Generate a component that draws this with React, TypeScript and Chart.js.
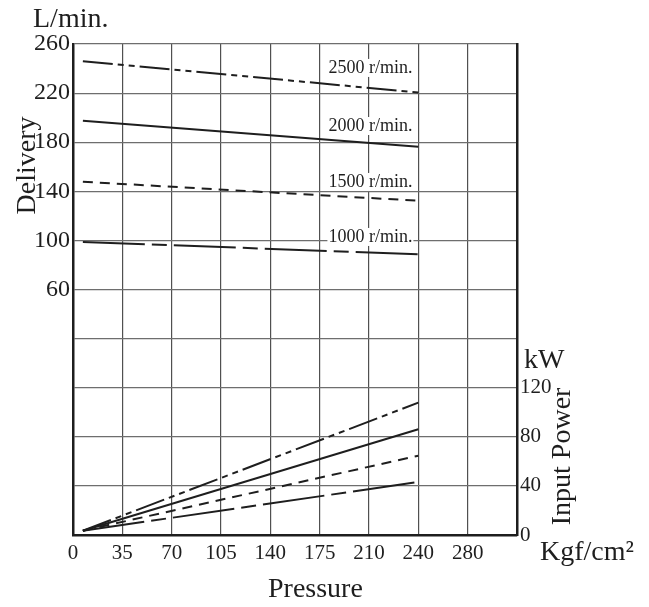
import React, { useEffect, useRef } from "react";
import { Chart, registerables } from "chart.js";

Chart.register(...registerables);

// ---- data ----
const pressureTicks = [0, 35, 70, 105, 140, 175, 210, 245, 280, 315];
const pressureTickLabels = ["0", "35", "70", "105", "140", "175", "210", "240", "280", ""];

const speedLabels = ["2500 r/min.", "2000 r/min.", "1500 r/min.", "1000 r/min."];
const pressurePoints = [7, 245];

const delivery2500 = [246, 220.5];
const delivery2000 = [197.5, 176.3];
const delivery1500 = [147.8, 132.3];
const delivery1000 = [98.7, 88.7];

const power2500 = [3.5, 107.8];
const power2000 = [3.5, 86.1];
const power1500 = [3.5, 64.6];
const power1000 = [3.5, 43.2];

const speedLabelPressure = 211;
const speedLabelDelivery = [240.5, 193.2, 147.6, 102.8];

const dashes: number[][] = [
  [30, 5, 6, 5, 6, 5],
  [],
  [10, 7],
  [62, 7, 15, 7],
];

const FONT = '"Liberation Serif", "Times New Roman", serif';
const INK = "#1e1e1e";

function pts(ys: number[]) {
  return ys.map((y, i) => ({ x: pressurePoints[i], y }));
}

const textPlugin = {
  id: "texts",
  afterDatasetsDraw(chart: any) {
    const { ctx, scales } = chart;
    ctx.save();
    ctx.font = `18px ${FONT}`;
    ctx.textAlign = "center";
    ctx.textBaseline = "middle";
    speedLabels.forEach((t, i) => {
      const x = scales.x.getPixelForValue(speedLabelPressure);
      const y = scales.y.getPixelForValue(speedLabelDelivery[i]);
      const w = ctx.measureText(t).width;
      ctx.fillStyle = "#ffffff";
      ctx.fillRect(x - w / 2 - 1, y - 9, w + 2, 18);
      ctx.fillStyle = INK;
      ctx.fillText(t, x, y);
    });
    ctx.restore();
  },
  afterDraw(chart: any) {
    const { ctx, chartArea: a, scales } = chart;
    ctx.save();
    ctx.fillStyle = INK;
    ctx.font = `28px ${FONT}`;
    ctx.textBaseline = "middle";
    ctx.textAlign = "left";
    ctx.fillText("L/min.", a.left - 40, a.top - 24);
    ctx.fillText("kW", a.right + 7, scales.y2.getPixelForValue(142));
    ctx.fillText("Kgf/cm\u00B2", a.right + 23, a.bottom + 18);
    ctx.textAlign = "center";
    ctx.fillText("Pressure", scales.x.getPixelForValue(172), a.bottom + 55);

    ctx.save();
    ctx.translate(a.left - 45, scales.y.getPixelForValue(161));
    ctx.rotate(-Math.PI / 2);
    ctx.fillText("Delivery", 0, 0);
    ctx.restore();

    ctx.save();
    ctx.translate(a.right + 46, scales.y2.getPixelForValue(64));
    ctx.rotate(-Math.PI / 2);
    ctx.fillText("Input Power", 0, 0);
    ctx.restore();
    ctx.restore();
  },
};

export default function App() {
  const ref = useRef<HTMLCanvasElement | null>(null);
  useEffect(() => {
    if (!ref.current) return;
    const series = [
      { d: delivery2500, axis: "y", dash: dashes[0] },
      { d: delivery2000, axis: "y", dash: dashes[1] },
      { d: delivery1500, axis: "y", dash: dashes[2] },
      { d: delivery1000, axis: "y", dash: dashes[3] },
      { d: power2500, axis: "y2", dash: dashes[0] },
      { d: power2000, axis: "y2", dash: dashes[1] },
      { d: power1500, axis: "y2", dash: dashes[2] },
      { d: power1000, axis: "y2", dash: dashes[3] },
    ];
    const chart = new Chart(ref.current, {
      type: "line",
      data: {
        datasets: series.map((s) => ({
          data: pts(s.d),
          yAxisID: s.axis,
          borderColor: INK,
          borderWidth: 2,
          borderDash: s.dash,
          pointRadius: 0,
          fill: false,
          tension: 0,
        })),
      },
      options: {
        responsive: false,
        animation: false,
        devicePixelRatio: 1,
        layout: { padding: { top: 44, left: 0, right: 0, bottom: 0 } },
        plugins: { legend: { display: false }, tooltip: { enabled: false } },
        scales: {
          x: {
            type: "linear",
            position: "bottom",
            min: 0,
            max: 315,
            ticks: {
              stepSize: 35,
              autoSkip: false,
              maxRotation: 0,
              padding: 6,
              color: INK,
              font: { family: FONT, size: 21 },
              callback: (v: any) => {
                const i = pressureTicks.indexOf(Math.round(Number(v)));
                return i >= 0 ? pressureTickLabels[i] : "";
              },
            },
            grid: { color: "#505050", lineWidth: 1.2, drawTicks: false },
            border: { display: true, color: INK, width: 2.5 },
            afterFit: (s: any) => {
              s.height = 72;
            },
          },
          y: {
            position: "left",
            min: -140,
            max: 260,
            ticks: {
              stepSize: 40,
              autoSkip: false,
              padding: 3,
              color: INK,
              font: { family: FONT, size: 24 },
              callback: (v: any) => (Number(v) >= 60 ? String(v) : ""),
            },
            grid: { color: "#6e6e6e", lineWidth: 1.2, drawTicks: false },
            border: { display: true, color: INK, width: 2.5 },
            afterFit: (s: any) => {
              s.width = 73;
            },
          },
          y2: {
            position: "right",
            min: 0,
            max: 400,
            ticks: {
              stepSize: 40,
              autoSkip: false,
              padding: 3,
              color: INK,
              font: { family: FONT, size: 21 },
              callback: (v: any) => (Number(v) <= 120 ? String(v) : ""),
            },
            grid: { drawOnChartArea: false, drawTicks: false },
            border: { display: true, color: INK, width: 2.5 },
            afterFit: (s: any) => {
              s.width = 132;
            },
          },
        },
      },
      plugins: [textPlugin],
    } as any);
    return () => chart.destroy();
  }, []);
  return (
    <div style={{ position: "fixed", left: 0, top: 0, width: 649, height: 607, background: "#fff" }}>
      <canvas ref={ref} width={649} height={607} />
    </div>
  );
}
